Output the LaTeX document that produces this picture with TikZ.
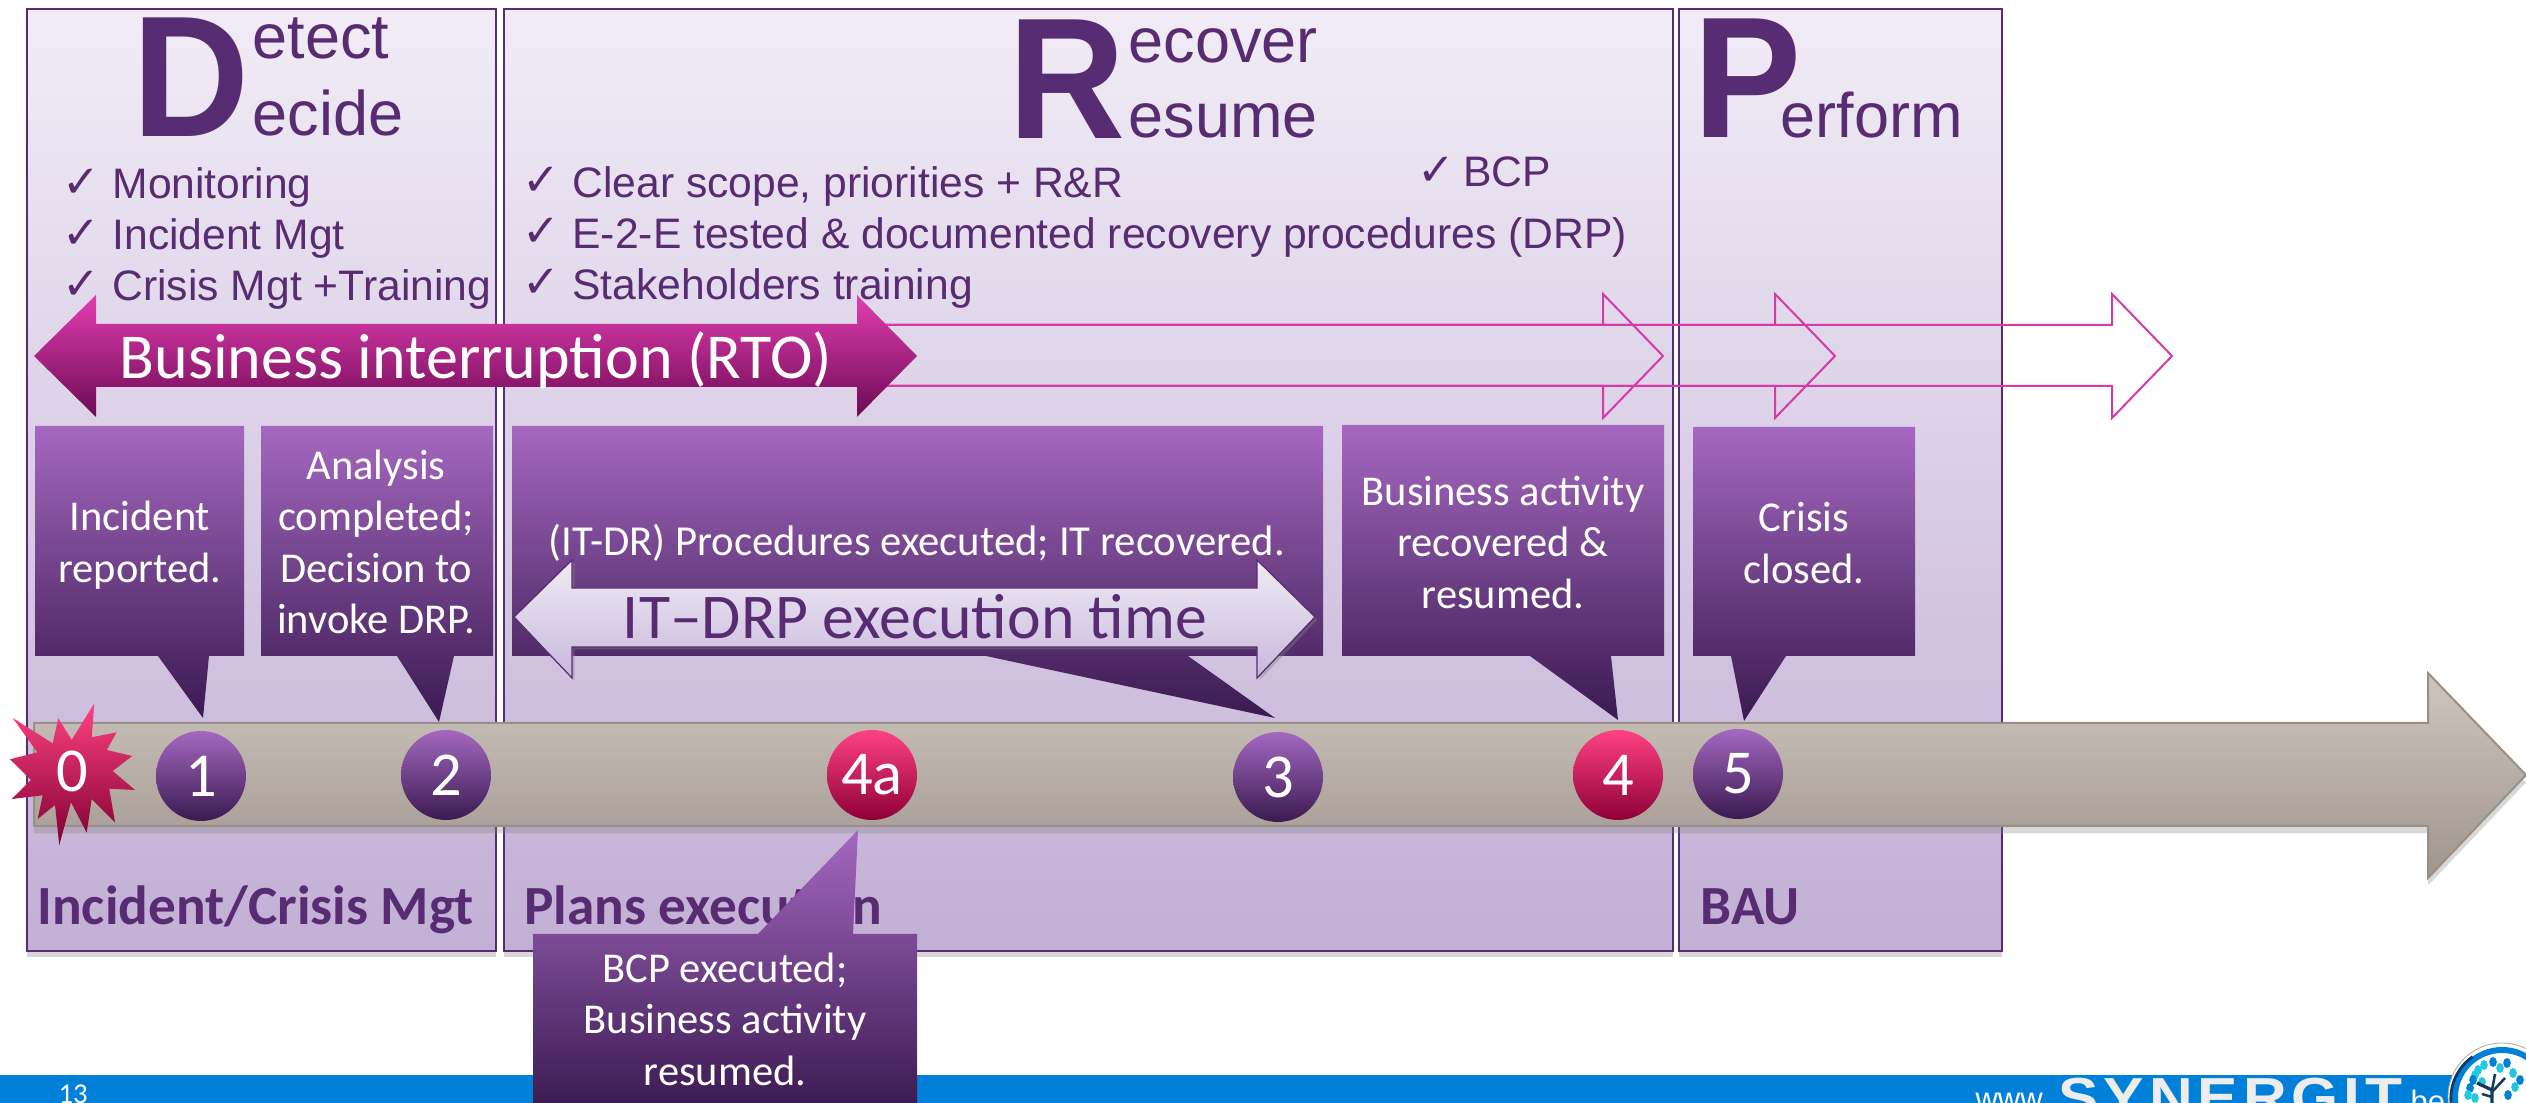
\documentclass[tikz,border=0pt]{standalone}
\usepackage{fontspec}
\usepackage{graphicx}
\usetikzlibrary{shadows,shapes.geometric}
\newfontfamily\carfont{Carlito}
\newfontfamily\libfont{Liberation Sans}
\newfontfamily\dejfont{DejaVu Sans}
\definecolor{pur}{HTML}{582C72}
\definecolor{panelT}{HTML}{F1ECF6}
\definecolor{panelB}{HTML}{C2AFD5}
\definecolor{cT}{HTML}{A568C0}
\definecolor{cM}{HTML}{693484}
\definecolor{cB}{HTML}{3A1A50}
\definecolor{rT}{HTML}{FF4283}
\definecolor{rM}{HTML}{D20051}
\definecolor{rB}{HTML}{8E0036}
\definecolor{pink}{HTML}{D63AA5}
\definecolor{mT}{HTML}{E23EB0}
\definecolor{mM}{HTML}{A60F79}
\definecolor{mB}{HTML}{6C0A54}
\definecolor{band}{HTML}{0080D8}
\definecolor{tlT}{HTML}{CEC6C0}
\definecolor{tlB}{HTML}{A0958D}
\definecolor{tlL}{HTML}{989088}
\definecolor{itT}{HTML}{EFEBF5}
\definecolor{itB}{HTML}{C8B8DC}
\definecolor{navy}{HTML}{123A5C}
\definecolor{teal}{HTML}{20C8E0}
\tikzset{
  panel/.style={draw=pur,line width=.9pt,top color=panelT,bottom color=panelB,drop shadow={opacity=.3,shadow xshift=0pt,shadow yshift=-2.5pt}},
  callout/.style={top color=cT,middle color=cM,bottom color=cB},
  hollow/.style={draw=pink,line width=.8pt,line join=miter},
  bigL/.style={anchor=base west,inner sep=0,text=pur,font=\libfont\bfseries\fontsize{69}{69}\selectfont},
  headT/.style={anchor=base west,inner sep=0,text=pur,font=\libfont\fontsize{25.2}{26}\selectfont},
  bul/.style={anchor=base west,inner sep=0,text=pur,font=\libfont\fontsize{17.05}{20}\selectfont},
  chk/.style={anchor=base west,inner sep=0,text=pur,font=\dejfont\fontsize{18}{20}\selectfont},
  calltxt/.style={inner sep=0,text=white,align=center,font=\carfont\fontsize{17}{20.6}\selectfont},
  foot/.style={anchor=base west,inner sep=0,text=pur,font=\carfont\bfseries\fontsize{22.1}{24}\selectfont},
  ball/.style={circle,minimum size=36pt,inner sep=0,text=white,font=\carfont\fontsize{25}{25}\selectfont},
  pball/.style={ball,top color=cT,middle color=cM,bottom color=cB},
  rball/.style={ball,top color=rT,middle color=rM,bottom color=rB},
}
\begin{document}
\begin{tikzpicture}[x=0.4pt,y=-0.4pt]
\useasboundingbox (0,0) rectangle (2526,1103);
\clip (0,0) rectangle (2526,1103);
\fill[white] (0,0) rectangle (2526,1103);
% footer band
\fill[band] (0,1075) rectangle (2526,1103);
% panels
\path[panel] (27,9) rectangle (496,951);
\path[panel] (504,9) rectangle (1673,951);
\path[panel] (1679,9) rectangle (2002,951);
% headings
\node[bigL] (bigD) at (132,137) {\scalebox{.94}[1]{D}};
\node[headT] (t1) at (252,59) {etect};
\node[headT] (t2) at (252,136) {ecide};
\node[bigL] (bigR) at (1008,139) {\scalebox{.94}[1]{R}};
\node[headT] (t3) at (1128,63) {ecover};
\node[headT] (t4) at (1128,138) {esume};
\node[bigL] (bigP) at (1693,138) {\scalebox{.94}[1]{P}};
\node[headT] (t5) at (1780,138) {erform};
% bullets
\node[chk] (c1) at (62,198) {✓};
\node[bul] (b1) at (112,199) {Monitoring};
\node[chk] (c2) at (62,249) {✓};
\node[bul] (b2) at (112,250) {Incident Mgt};
\node[chk] (c3) at (62,300) {✓};
\node[bul] (b3) at (112,301) {Crisis Mgt +Training};
\node[chk] (c4) at (522,196) {✓};
\node[bul] (b4) at (572,198) {Clear scope, priorities + R\&R};
\node[chk] (c5) at (522,247) {✓};
\node[bul] (b5) at (572,249) {E-2-E tested \& documented recovery procedures (DRP)};
\node[chk] (c6) at (522,298) {✓};
\node[bul] (b6) at (572,300) {Stakeholders training};
\node[chk] (c7) at (1417,186) {✓};
\node[bul] (b7) at (1463,187) {BCP};
% hollow pink arrows
\foreach \s/\h/\t in {860/1603/1663,860/1775/1835,860/2112/2172}{
  \draw[hollow] (\s,325) -- (\h,325) -- (\h,294) -- (\t,356) -- (\h,418) -- (\h,386) -- (\s,386);
}
% RTO arrow
\path[top color=mT,middle color=mM,bottom color=mB]
  (34,356) -- (96,295) -- (96,324) -- (857,324) -- (857,295) -- (917,356) -- (857,417) -- (857,387) -- (96,387) -- (96,417) -- cycle;
\node[inner sep=0,text=white,font=\carfont\fontsize{25.6}{26}\selectfont,anchor=base] (rto) at (476,379) {Business interruption (RTO)};
% callouts
\path[callout] (35,426) -- (244,426) -- (244,656) -- (209,656) -- (203,718) -- (158,656) -- (35,656) -- cycle;
\node[calltxt] (c1t) at (140,545) {Incident\\reported.};
\path[callout] (261,426) -- (493,426) -- (493,656) -- (454,656) -- (439,722) -- (397,656) -- (261,656) -- cycle;
\node[calltxt] (c2t) at (376,542) {Analysis\\completed;\\Decision to\\invoke DRP.};
\path[callout] (512,426) -- (1323,426) -- (1323,656) -- (1188,656) -- (1275,718) -- (986,656) -- (512,656) -- cycle;
\node[inner sep=0,text=white,font=\carfont\fontsize{17.1}{20.4}\selectfont,anchor=base] (c3t) at (917,556) {(IT-DR) Procedures executed; IT recovered.};
\path[callout] (1342,425) -- (1664,425) -- (1664,656) -- (1611,656) -- (1618,720) -- (1530,656) -- (1342,656) -- cycle;
\node[calltxt] (c4t) at (1503,542) {Business activity\\recovered \&\\resumed.};
\path[callout] (1693,427) -- (1915,427) -- (1915,656) -- (1786,656) -- (1744,721) -- (1731,656) -- (1693,656) -- cycle;
\node[calltxt] (c5t) at (1804,543) {Crisis\\closed.};
% IT-DRP arrow
\path[draw=pur,line width=.5pt,top color=itT,bottom color=itB,drop shadow={opacity=.4,shadow xshift=1pt,shadow yshift=-1pt}]
  (514,617) -- (572,560) -- (572,588) -- (1257,588) -- (1257,560) -- (1315,617) -- (1257,678) -- (1257,647) -- (572,647) -- (572,678) -- cycle;
\node[inner sep=0,text=pur,font=\carfont\fontsize{25.5}{26}\selectfont,anchor=base] (drp) at (915,639) {IT–DRP execution time};
% footers
\node[foot] (f1) at (37,925) {Incident/Crisis Mgt};
\node[foot] (f2) at (524,925) {Plans execution};
\node[foot] (f3) at (1700,925) {BAU};
% timeline
\path[draw=tlL,line width=.8pt,top color=tlT,bottom color=tlB,drop shadow={opacity=.3,shadow xshift=0pt,shadow yshift=-3pt}]
  (34,723) -- (2428,723) -- (2428,673) -- (2526,775) -- (2428,878) -- (2428,826) -- (34,826) -- cycle;
% 0 star
\path[top color=rT,middle color=rM,bottom color=rB!90!black]
  (12.7,718) -- (52.7,743.3) -- (58.3,718.3) -- (71.7,740) -- (94.3,703.3) -- (91.7,737.3) -- (116.7,732.3) -- (106.7,750) -- (132.3,756) -- (112.7,771) -- (135,790) -- (109.3,788.7) -- (115,822.3) -- (91.7,799) -- (86.7,832.7) -- (71,802.3) -- (59.3,845) -- (55,805) -- (37.7,819) -- (42.7,795.3) -- (11.7,799) -- (31,780) -- (10,759.3) -- (37.3,752.3) -- cycle;
\node[inner sep=0,text=white,font=\carfont\fontsize{25}{25}\selectfont] (n0) at (72,771) {0};
% circles
\node[pball] (n1) at (201,776) {1};
\node[pball] (n2) at (446,775) {2};
\node[rball] (n4a) at (872,775) {4a};
\node[pball] (n3) at (1278,777) {3};
\node[rball] (n4) at (1618,775) {4};
\node[pball] (n5) at (1738,774) {5};
% 4a callout
\path[callout] (533,934) -- (758,934) -- (858,830) -- (853,934) -- (917,934) -- (917,1110) -- (533,1110) -- cycle;
\node[calltxt] (c4at) at (725,1019) {BCP executed;\\Business activity\\resumed.};
% footer text
\node[anchor=base west,inner sep=0,text=white,font=\carfont\fontsize{11.5}{12}\selectfont] (pg) at (58,1103) {13};
\node[anchor=base west,inner sep=0,text=white,font=\libfont\fontsize{12.4}{13}\selectfont] (www) at (1975,1109) {www};
\node[anchor=base west,inner sep=0,text=white!93!black,font=\libfont\bfseries\fontsize{22}{22}\selectfont] (syn) at (2058,1116) {\addfontfeature{FakeStretch=1.1,LetterSpace=9}SYNERGIT};
\node[anchor=base west,inner sep=0,text=white,font=\libfont\fontsize{12.4}{13}\selectfont] (be) at (2410,1112) {be};
% logo
\filldraw[fill=white,draw=black!35,line width=.3pt] (2502,1097) circle [radius=54];
\draw[band,line width=2.4pt] (2502,1097) circle [radius=47];
\draw[navy,line width=1.1pt] (2451,1103) arc [start angle=175,end angle=235,radius=51];
\foreach \a/\b/\c in {2484/1065/teal,2478/1070/teal,2493/1062/band,2475/1075/teal,2482/1082/teal,2470/1088/band,2473/1080/band,2468/1095/teal,2507/1063/band,2500/1068/teal,2513/1073/teal,2520/1080/band,2475/1098/teal,2508/1095/band,2515/1087/teal}{
  \fill[\c] (\a,\b) ellipse [x radius=3.8,y radius=5];
}
\draw[navy,line width=1.3pt] (2492,1103) -- (2492,1090) -- (2477,1083);
\draw[navy,line width=1pt] (2492,1092) -- (2505,1078);
\draw[navy,line width=1pt] (2492,1090) -- (2495,1074);
\draw[navy,line width=1pt] (2492,1097) -- (2482,1094);
\end{tikzpicture}
\end{document}
